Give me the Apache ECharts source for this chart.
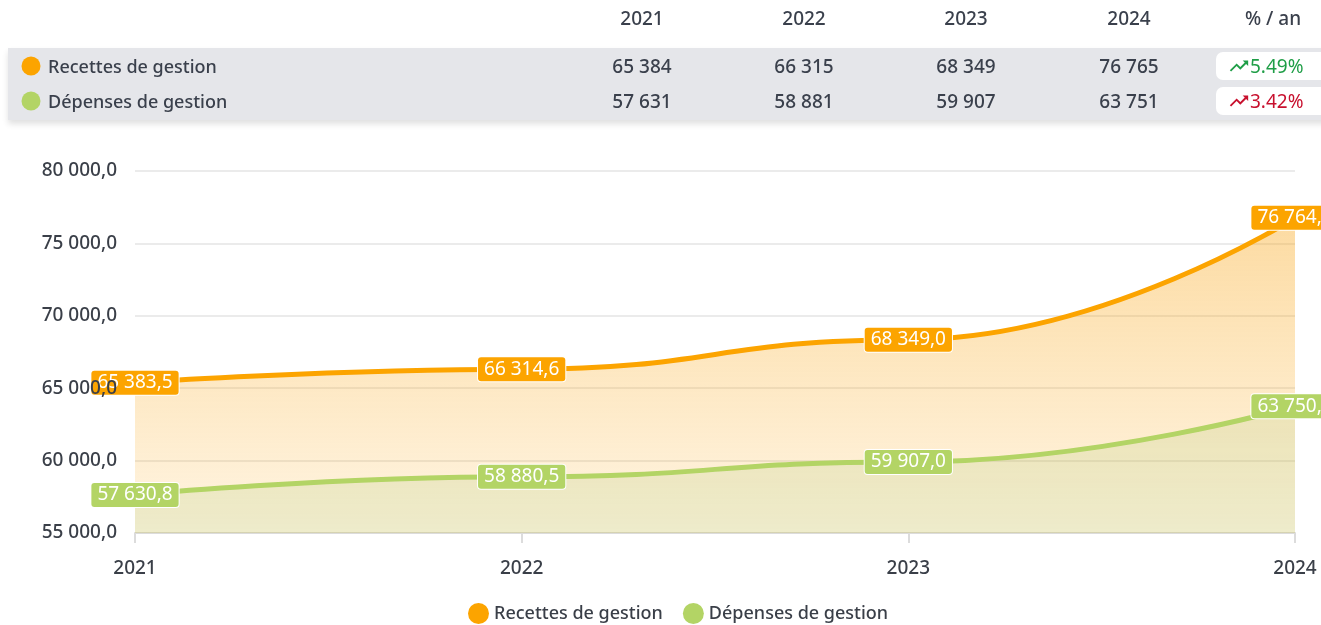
<!DOCTYPE html>
<html>
<head>
<meta charset="utf-8">
<script src="https://cdn.jsdelivr.net/npm/echarts@6/dist/echarts.min.js"></script>
<style>
  html, body { margin: 0; padding: 0; background: #fff; }
  body { width: 1321px; height: 625px; position: relative; overflow: hidden; font-family: "Noto Sans", sans-serif; color: #3a404c; }
  #chart { position: absolute; left: 0; top: 0; width: 1321px; height: 625px; }
  /* tableau du haut */
  .band { position: absolute; top: 48px; left: 8px; width: 1320px; height: 72px; background: #e5e6ea; box-shadow: 0 4px 6px rgba(0,0,0,0.12); }
  .cell { position: absolute; transform: translate(-50%, -50%); font-size: 19px; font-weight: 500; white-space: nowrap; }
  .name { position: absolute; transform: translateY(-50%); font-size: 18px; font-weight: 500; white-space: nowrap; }
  .dot { position: absolute; width: 19px; height: 19px; border-radius: 50%; transform: translate(-50%, -50%); }
  .pct { position: absolute; left: 1216px; width: 120px; height: 28px; background: #fff; border-radius: 7px; font-size: 19px; display: flex; align-items: center; padding-left: 12px; box-sizing: border-box; }
  .pct svg { width: 22px; height: 22px; }
</style>
</head>
<body>
<div id="chart"></div>
<div id="table"></div>
<script>
// données
const years = ['2021', '2022', '2023', '2024']
const seriesNames = ['Recettes de gestion', 'Dépenses de gestion']
const recettes = [65383.5, 66314.6, 68349.0, 76764.6]
const depenses = [57630.8, 58880.5, 59907.0, 63750.7]
const tauxAnnuel = ['5.49%', '3.42%']
const yTicks = [55000, 60000, 65000, 70000, 75000, 80000]

const colors = ['#fca400', '#b3d465']
const pctColors = ['#1f9e47', '#c8102e']

// format "65 383,5"
const fmt = (v, dec) => {
  const s = v.toFixed(dec).split('.')
  const ent = s[0].replace(/\B(?=(\d{3})+(?!\d))/g, ' ')
  return dec ? ent + ',' + s[1] : ent
}

/* tableau */
const colX = [642, 804, 966, 1129]
const rowY = [66, 101]
const table = document.getElementById('table')
let html = '<div class="band"></div>'
years.forEach((y, i) => {
  html += `<div class="cell" style="left:${colX[i]}px;top:18px">${y}</div>`
})
html += `<div class="cell" style="left:1273px;top:18px">% / an</div>`
;[recettes, depenses].forEach((arr, r) => {
  html += `<div class="dot" style="left:31px;top:${rowY[r]}px;background:${colors[r]}"></div>`
  html += `<div class="name" style="left:48px;top:${rowY[r]}px">${seriesNames[r]}</div>`
  arr.forEach((v, i) => {
    html += `<div class="cell" style="left:${colX[i]}px;top:${rowY[r]}px">${fmt(Math.round(v), 0)}</div>`
  })
  html += `<div class="pct" style="top:${rowY[r] - 14}px;color:${pctColors[r]}">` +
    `<svg viewBox="0 0 24 24"><path fill="${pctColors[r]}" d="M16 6l2.29 2.29-4.88 4.88-4-4L2 16.59 3.41 18l6-6 4 4 6.3-6.29L22 12V6z"/></svg>` +
    `${tauxAnnuel[r]}</div>`
})
table.innerHTML = html

/* graphique */
const myChart = echarts.init(document.getElementById('chart'))

const labelStyle = color => ({
  show: true,
  position: 'inside',
  color: '#fff',
  fontSize: 19,
  fontFamily: 'Noto Sans',
  backgroundColor: color,
  borderColor: '#fff',
  borderWidth: 1,
  borderRadius: 3,
  padding: [3, 6, 2, 6],
  formatter: p => fmt(p.value, 1)
})

const axisFont = { color: '#3a3f48', fontSize: 19, fontWeight: 500, fontFamily: 'Noto Sans' }

const option = {
  animation: false,
  grid: { left: 135, right: 26, top: 171, bottom: 92 },
  legend: {
    top: 598,
    left: 463,
    icon: 'circle',
    itemWidth: 21,
    itemHeight: 21,
    itemGap: 20,
    textStyle: { color: '#3a3f48', fontSize: 18, fontWeight: 500, fontFamily: 'Noto Sans' },
    data: seriesNames
  },
  xAxis: {
    type: 'category',
    data: years,
    boundaryGap: false,
    axisLine: { lineStyle: { color: '#dcdcdc', width: 2 } },
    axisTick: { show: true, alignWithLabel: true, length: 10, lineStyle: { color: '#dcdcdc', width: 2 } },
    axisLabel: { ...axisFont, margin: 26, interval: 0 },
    splitLine: { show: false }
  },
  yAxis: [
    {
      type: 'value',
      min: yTicks[0],
      max: yTicks[yTicks.length - 1],
      interval: 5000,
      axisLabel: { show: false },
      axisLine: { show: false },
      axisTick: { show: false },
      splitLine: { lineStyle: { color: '#e4e4e4', width: 1.5 } }
    },
    {
      type: 'value',
      position: 'left',
      z: 10,
      min: yTicks[0],
      max: yTicks[yTicks.length - 1],
      interval: 5000,
      axisLabel: { ...axisFont, margin: 18, formatter: v => fmt(v, 1) },
      axisLine: { show: false },
      axisTick: { show: false },
      splitLine: { show: false }
    }
  ],
  series: [
    {
      name: seriesNames[0],
      type: 'line',
      smooth: 0.5,
      smoothMonotone: 'x',
      data: recettes,
      color: colors[0],
      symbol: 'circle',
      symbolSize: 1,
      lineStyle: { width: 5, color: colors[0] },
      areaStyle: {
        color: new echarts.graphic.LinearGradient(0, 0, 0, 1, [
          { offset: 0, color: 'rgba(248,160,10,0.55)' },
          { offset: 1, color: 'rgba(252,175,40,0.2)' }
        ])
      },
      label: labelStyle(colors[0]),
      z: 2
    },
    {
      name: seriesNames[1],
      type: 'line',
      smooth: 0.5,
      smoothMonotone: 'x',
      data: depenses,
      color: colors[1],
      symbol: 'circle',
      symbolSize: 1,
      lineStyle: { width: 5, color: colors[1] },
      areaStyle: { color: 'rgba(170,200,110,0.28)' },
      label: labelStyle(colors[1]),
      z: 3
    }
  ]
}

myChart.setOption(option)
</script>
</body>
</html>
